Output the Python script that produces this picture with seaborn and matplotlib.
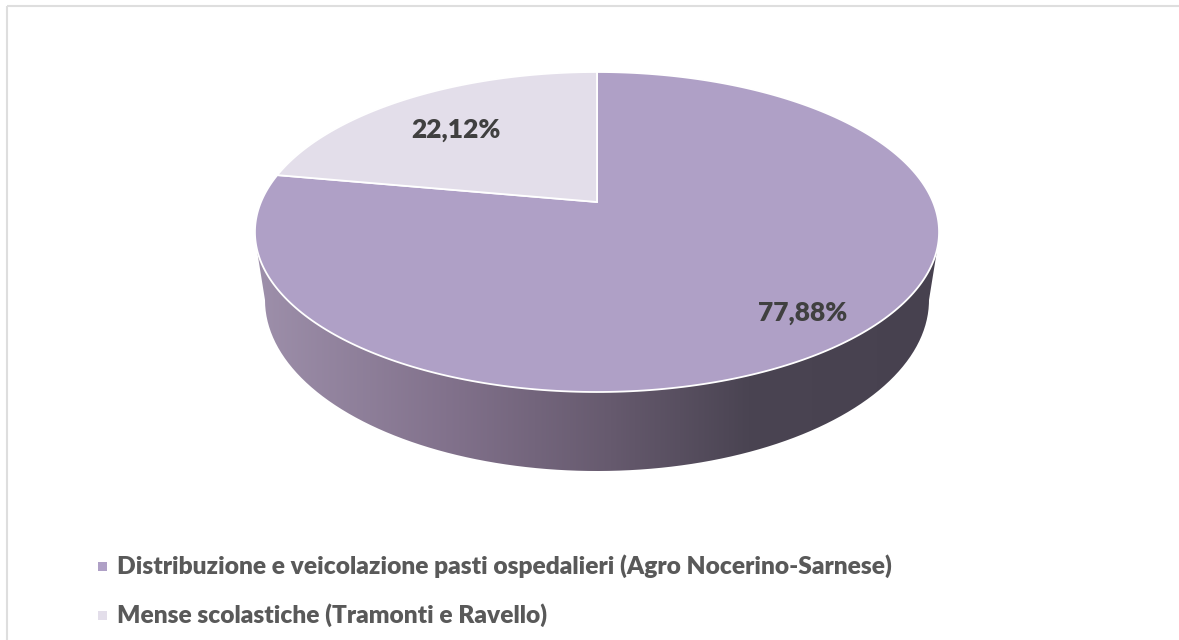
import numpy as np
import seaborn as sns
import matplotlib.pyplot as plt
from matplotlib.patches import Polygon, Rectangle, PathPatch
from matplotlib.path import Path
from matplotlib.colors import LinearSegmentedColormap

categories = ["Distribuzione e veicolazione pasti ospedalieri (Agro Nocerino-Sarnese)",
              "Mense scolastiche (Tramonti e Ravello)"]
values = [77.88, 22.12]
value_labels = ["77,88%", "22,12%"]
colors = ["#afa0c6", "#e3deea"]

W, H = 1179, 640
sns.set_theme(style="white")
plt.rcParams['font.family'] = ['Lato', 'DejaVu Sans']

# perspective of the pie top, in pixels
cx, cy, c, ry, apex, k = 597, 232, 336, 160, 30, 0.1875


def project(theta):
    # theta in degrees clockwise from the top of the pie
    t = np.radians(theta)
    u, v = np.sin(t), np.cos(t)
    d = 1 + k * v
    return cx + c * u / d, cy - (ry * v + apex) / d


fig = plt.figure(figsize=(W / 100, H / 100), dpi=100)
ax = fig.add_axes([0, 0, 1, 1])
ax.set_xlim(0, W)
ax.set_ylim(H, 0)
ax.axis("off")

ax.add_patch(Rectangle((7, 6), W, H, fill=False, ec="#dedede", lw=1.5))

# side wall: front of the top rim, closed by the smaller bottom rim
th = np.linspace(106, 254, 300)
x, y = project(th)
phi = np.radians(np.linspace(180, 0, 300))
bx = cx + 332 * np.cos(phi)
by = 300 + 171 * np.sin(phi)
side = np.r_[np.c_[x, y], np.c_[bx, by]]
clip = PathPatch(Path(side), fc="none", ec="none")
ax.add_patch(clip)
shade = LinearSegmentedColormap.from_list("shade", [(0, "#9e90ab"), (0.3, "#80708a"), (0.52, "#665a6e"),
                                                    (0.72, "#4a4452"), (1, "#47414f")])
img = ax.imshow(np.linspace(0, 1, 256)[None, :], cmap=shade, aspect="auto",
                extent=[cx - 345, cx + 345, H, 0], zorder=1)
img.set_clip_path(clip)
ax.set_xlim(0, W)
ax.set_ylim(H, 0)

# top slices, clockwise from 12 o'clock
start = 0
label_pos = [(803, 313), (456, 130)]
for val, col, lab, pos in zip(values, colors, value_labels, label_pos):
    end = start + val * 3.6
    px, py = project(np.linspace(start, end, 300))
    pts = np.r_[[[cx, cy - apex]], np.c_[px, py]]
    ax.add_patch(Polygon(pts, closed=True, fc=col, ec="white", lw=1.3, zorder=2))
    ax.text(pos[0], pos[1], lab, ha="center", va="center", fontsize=19,
            fontweight=800, color="#404040", zorder=3)
    start = end

# legend
leg_y = [566, 615]
for name, col, ly in zip(categories, colors, leg_y):
    ax.add_patch(Rectangle((98, ly - 4.5), 9, 9, fc=col, ec="none"))
    ax.text(117, ly, name, ha="left", va="center", fontsize=17.65,
            fontweight=800, color="#595959")

fig.savefig("out.png", dpi=100)
